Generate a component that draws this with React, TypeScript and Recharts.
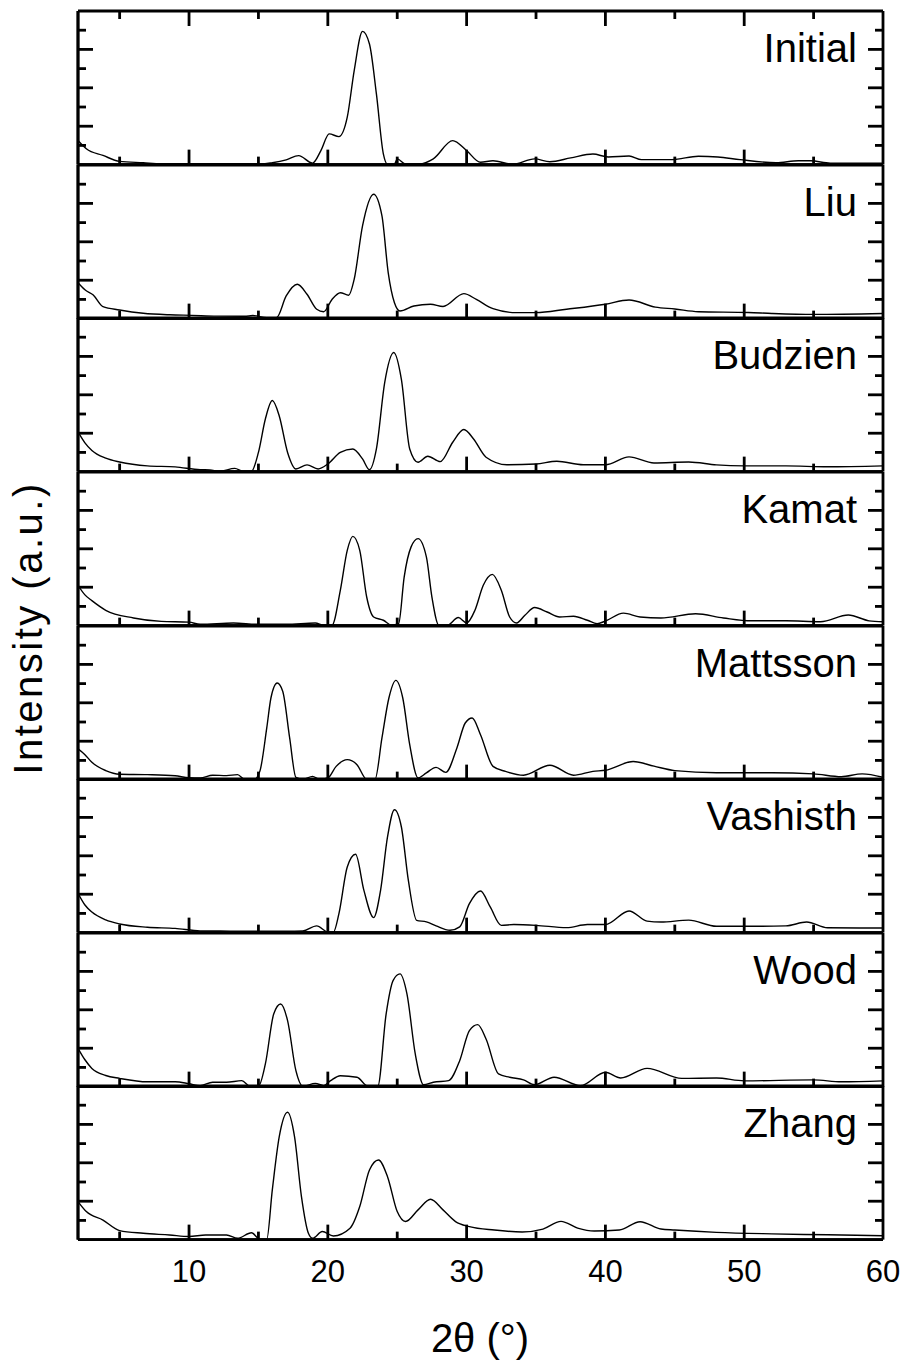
import { LineChart, Line, XAxis, YAxis, ReferenceLine } from "recharts";

// sample names, top to bottom
const samples = ["Initial", "Liu", "Budzien", "Kamat", "Mattsson", "Vashisth", "Wood", "Zhang"];

// 2theta (deg) / intensity (a.u.)
const initialTheta = [2, 2.6, 3.8, 5, 6.7, 8, 10, 12, 14, 15.2, 16, 17, 17.9, 18.9, 19.5, 20.1, 20.8, 21.4, 21.9, 22.5, 23, 23.5, 24, 24.3, 24.8, 25, 25.6, 26.6, 27.6, 29, 30, 31, 31.9, 33.3, 34.9, 36, 37.5, 39.1, 40.2, 41.7, 42.6, 44.8, 46.7, 48.1, 49.7, 52.3, 53.9, 54.8, 56.2, 60];
const initialInt = [1.26, 0.83, 0.48, 0.17, 0.1, 0.05, 0.05, 0.05, 0.05, 0.03, 0.1, 0.25, 0.47, 0.08, 0.73, 1.6, 1.46, 2.47, 4.9, 6.94, 6.28, 3.68, 0.56, 0.02, 0.02, 0.3, 0.03, 0.03, 0.3, 1.25, 0.73, 0.12, 0.2, 0.02, 0.3, 0.15, 0.35, 0.55, 0.4, 0.45, 0.26, 0.26, 0.44, 0.4, 0.26, 0.1, 0.2, 0.2, 0.08, 0.08];

const liuTheta = [2, 2.5, 3.1, 3.8, 5, 6.7, 8.6, 10.2, 12, 14, 14.6, 15.6, 16.3, 17, 17.8, 18.5, 19.2, 19.7, 20.3, 20.9, 21.5, 21.9, 22.5, 23.3, 23.9, 24.35, 24.8, 25.2, 26.2, 27.4, 28.3, 29.8, 30.7, 31.9, 33.6, 35, 37.2, 40, 41.7, 43.6, 45, 46.7, 50.3, 52, 55, 60];
const liuInt = [1.87, 1.5, 1.23, 0.62, 0.45, 0.28, 0.2, 0.17, 0.13, 0.12, 0.16, 0.05, 0.05, 1.18, 1.79, 1.27, 0.49, 0.36, 1.0, 1.35, 1.22, 2.05, 4.83, 6.48, 5.35, 2.4, 0.83, 0.4, 0.66, 0.75, 0.63, 1.3, 1.0, 0.52, 0.31, 0.31, 0.49, 0.75, 0.97, 0.6, 0.5, 0.36, 0.32, 0.27, 0.22, 0.27];

const budzienTheta = [2, 2.5, 3, 4, 5, 7, 9, 10.8, 11.5, 12.2, 13.3, 13.9, 14.5, 15, 15.5, 16, 16.5, 17.1, 17.7, 18.5, 19.3, 20, 20.9, 21.8, 22.5, 23, 23.5, 24.1, 24.75, 25.3, 25.9, 26.5, 27.2, 28.1, 29, 29.8, 30.5, 31.4, 32.9, 35, 36.5, 38.4, 40, 41.7, 43.5, 46, 48, 50, 53, 56, 60];
const budzienInt = [2.07, 1.5, 1.1, 0.7, 0.5, 0.3, 0.25, 0.1, 0.09, 0.02, 0.17, 0.02, 0.02, 1.0, 2.74, 3.7, 2.9, 1.0, 0.14, 0.35, 0.14, 0.4, 1.0, 1.18, 0.66, 0.1, 1.18, 4.65, 6.2, 4.8, 1.18, 0.49, 0.8, 0.52, 1.53, 2.19, 1.7, 0.75, 0.36, 0.4, 0.54, 0.36, 0.36, 0.77, 0.45, 0.5, 0.35, 0.3, 0.3, 0.25, 0.3];

const kamatTheta = [2, 2.5, 3, 4, 6, 8, 10, 10.8, 13.2, 15, 17, 19.1, 19.7, 20.3, 20.9, 21.4, 21.8, 22.3, 22.8, 23.3, 24, 24.6, 25.1, 25.5, 26, 26.5, 27.1, 27.5, 28, 28.6, 29.4, 30, 30.6, 31.2, 31.85, 32.5, 33.1, 33.6, 34.2, 34.9, 35.8, 36.7, 37.7, 38.7, 39.4, 40, 41.3, 42.5, 44, 46.5, 48.5, 50.5, 53, 55.5, 57.5, 59, 60];
const kamatInt = [2.1, 1.6, 1.3, 0.8, 0.4, 0.22, 0.18, 0.07, 0.14, 0.07, 0.07, 0.14, 0.02, 0.02, 1.84, 3.92, 4.65, 3.92, 1.49, 0.45, 0.28, 0.02, 0.1, 2.53, 4.1, 4.53, 3.58, 1.49, 0.02, 0.02, 0.42, 0.14, 0.8, 2.1, 2.67, 1.84, 0.45, 0.14, 0.54, 0.94, 0.71, 0.45, 0.49, 0.28, 0.1, 0.24, 0.65, 0.45, 0.4, 0.62, 0.4, 0.25, 0.25, 0.2, 0.55, 0.25, 0.2];

const mattssonTheta = [2, 2.5, 3, 4, 5, 7, 9, 10, 10.8, 11.7, 12.7, 13.5, 14, 14.7, 15.1, 15.6, 15.9, 16.35, 16.75, 17.25, 17.7, 18.2, 18.9, 19.4, 20, 20.6, 21.4, 22.1, 22.8, 23.4, 23.9, 24.4, 24.9, 25.4, 25.9, 26.5, 27.1, 27.8, 28.5, 29.3, 29.9, 30.4, 31, 31.9, 32.8, 34.1, 36, 37.7, 39.1, 40, 42, 43.5, 45, 48, 52, 55, 57, 58.5, 60];
const mattssonInt = [1.6, 1.3, 0.9, 0.47, 0.28, 0.26, 0.2, 0.1, 0.09, 0.23, 0.21, 0.26, 0.02, 0.02, 0.43, 2.69, 4.25, 5.03, 4.6, 2.17, 0.12, 0.02, 0.17, 0.02, 0.09, 0.69, 1.04, 0.78, 0.02, 0.02, 2.17, 4.25, 5.17, 4.25, 1.82, 0.09, 0.35, 0.64, 0.38, 1.65, 2.95, 3.21, 2.34, 0.69, 0.43, 0.23, 0.75, 0.23, 0.43, 0.49, 0.94, 0.7, 0.47, 0.36, 0.36, 0.3, 0.15, 0.3, 0.12];

const vashisthTheta = [2, 2.5, 3, 4, 5, 7, 9, 10.8, 13, 15, 17, 18.2, 19.2, 20, 20.4, 20.8, 21.4, 22, 22.6, 23.3, 23.8, 24.3, 24.8, 25.3, 25.8, 26.4, 27.1, 27.8, 28.8, 29.5, 30.2, 31, 31.7, 32.5, 33.4, 35, 37.2, 38.7, 40, 41.7, 43, 44, 46, 48, 51, 53, 54.5, 56, 60];
const vashisthInt = [2.05, 1.44, 1.07, 0.66, 0.45, 0.28, 0.22, 0.09, 0.08, 0.07, 0.07, 0.09, 0.35, 0.03, 0.02, 0.99, 3.42, 4.08, 2.2, 0.78, 2.2, 4.98, 6.4, 5.5, 2.73, 0.64, 0.56, 0.35, 0.12, 0.3, 1.51, 2.17, 1.34, 0.38, 0.42, 0.38, 0.26, 0.42, 0.42, 1.13, 0.6, 0.55, 0.65, 0.33, 0.33, 0.35, 0.55, 0.25, 0.24];

const woodTheta = [2, 2.5, 3, 4, 5, 7, 9, 10, 10.8, 11.7, 12.7, 13.8, 14.4, 15, 15.5, 16.1, 16.6, 17.1, 17.7, 18.2, 19.1, 19.7, 20.2, 20.9, 22.1, 22.9, 23.6, 24.2, 24.7, 25.2, 25.7, 26.3, 26.9, 27.6, 28.7, 29.5, 30.2, 30.8, 31.4, 32.3, 33.1, 34.1, 34.9, 36.3, 38.2, 40, 41.1, 43, 45.5, 48, 50, 55, 57, 60];
const woodInt = [2.0, 1.4, 0.95, 0.58, 0.43, 0.25, 0.25, 0.15, 0.05, 0.23, 0.23, 0.31, 0.02, 0.02, 1.18, 3.78, 4.3, 3.44, 0.83, 0.02, 0.17, 0.05, 0.31, 0.57, 0.49, 0.02, 0.02, 3.78, 5.52, 5.87, 4.83, 1.7, 0.1, 0.23, 0.31, 1.35, 2.92, 3.23, 2.48, 0.66, 0.49, 0.35, 0.1, 0.49, 0.05, 0.75, 0.45, 0.95, 0.43, 0.45, 0.3, 0.35, 0.25, 0.3];

const zhangTheta = [2, 2.6, 3.8, 5, 6.7, 8.6, 10, 11.2, 12.7, 13.5, 14.5, 15.1, 15.6, 16, 16.5, 17.1, 17.6, 18.1, 18.6, 18.9, 19.6, 20.4, 21.6, 22.3, 23, 23.65, 24.3, 25, 25.6, 26.5, 27.4, 28.3, 29.2, 30.2, 32, 34, 35.5, 36.8, 38, 39.2, 41, 42.5, 44, 45, 48, 52, 56, 60];
const zhangInt = [1.98, 1.46, 1.02, 0.47, 0.33, 0.24, 0.16, 0.24, 0.24, 0.07, 0.36, 0.02, 0.02, 2.59, 5.36, 6.63, 5.36, 2.24, 0.33, 0.07, 0.42, 0.19, 0.59, 1.72, 3.63, 4.15, 3.28, 1.46, 0.94, 1.55, 2.1, 1.55, 0.94, 0.68, 0.5, 0.4, 0.55, 0.95, 0.6, 0.45, 0.5, 0.93, 0.55, 0.5, 0.38, 0.3, 0.25, 0.2];

const thetaSets = [initialTheta, liuTheta, budzienTheta, kamatTheta, mattssonTheta, vashisthTheta, woodTheta, zhangTheta];
const intensitySets = [initialInt, liuInt, budzienInt, kamatInt, mattssonInt, vashisthInt, woodInt, zhangInt];

const xTicks = [5, 10, 15, 20, 25, 30, 35, 40, 45, 50, 55, 60];
const yTicks = [1, 2, 3, 4, 5, 6, 7];

const W = 904;
const PLOT_L = 78;
const PLOT_R = 883;
const TOP = 11;
const PANEL_H = 153.625;
const PAD = 4;
const FRAME = 2.8;
const FONT = '"Liberation Sans", Arial, sans-serif';

function makeXTick(first: boolean, last: boolean) {
  return (props: any) => {
    const v = props.payload.value;
    const x = props.payload.coordinate ?? props.x;
    const len = v % 10 === 0 ? 15 : 8;
    const bottom = PAD + PANEL_H;
    return (
      <g>
        {v < 60 && <line x1={x} x2={x} y1={bottom} y2={bottom - len} stroke="#000" strokeWidth={FRAME} />}
        {first && v < 60 && <line x1={x} x2={x} y1={PAD} y2={PAD + len} stroke="#000" strokeWidth={FRAME} />}
        {last && v % 10 === 0 && (
          <text x={x} y={bottom + 42} textAnchor="middle" fontSize={31} fill="#000" fontFamily={FONT}>
            {v}
          </text>
        )}
      </g>
    );
  };
}

const YTick = (props: any) => {
  const v = props.payload.value;
  const y = props.payload.coordinate ?? props.y;
  const len = v % 2 === 0 ? 15 : 8;
  return (
    <g>
      <line x1={PLOT_L} x2={PLOT_L + len} y1={y} y2={y} stroke="#000" strokeWidth={FRAME} />
      <line x1={PLOT_R} x2={PLOT_R - len} y1={y} y2={y} stroke="#000" strokeWidth={FRAME} />
    </g>
  );
};

function Panel({ idx }: { idx: number }) {
  const data = thetaSets[idx].map((t, i) => ({ x: t, y: intensitySets[idx][i] }));
  const first = idx === 0;
  const last = idx === samples.length - 1;
  const bottomPad = last ? 60 : PAD;
  return (
    <div style={{ position: "absolute", left: 0, top: TOP + idx * PANEL_H - PAD }}>
      <LineChart
        width={W}
        height={PANEL_H + PAD + bottomPad}
        data={data}
        margin={{ top: PAD, right: W - PLOT_R, bottom: bottomPad - 1, left: PLOT_L - 1 }}
      >
        <XAxis
          dataKey="x"
          type="number"
          domain={[2, 60]}
          ticks={xTicks}
          interval={0}
          allowDataOverflow
          height={1}
          tickLine={false}
          axisLine={{ stroke: "#000", strokeWidth: FRAME }}
          tick={makeXTick(first, last)}
        />
        <YAxis
          type="number"
          domain={[0, 8]}
          ticks={yTicks}
          interval={0}
          allowDataOverflow
          width={1}
          tickLine={false}
          axisLine={{ stroke: "#000", strokeWidth: FRAME }}
          tick={YTick}
        />
        <ReferenceLine x={60} stroke="#000" strokeWidth={FRAME} />
        <ReferenceLine y={8} stroke="#000" strokeWidth={FRAME} />
        <ReferenceLine x={2} stroke="#000" strokeWidth={FRAME} />
        <ReferenceLine y={0} stroke="#000" strokeWidth={FRAME} />
        <Line
          type="monotone"
          dataKey="y"
          stroke="#000"
          strokeWidth={1.4}
          dot={false}
          isAnimationActive={false}
        />
      </LineChart>
    </div>
  );
}

export default function App() {
  return (
    <div style={{ position: "absolute", left: 0, top: 0, width: W, height: 1360, background: "#fff", fontFamily: FONT }}>
      {samples.map((s, i) => (
        <Panel key={s} idx={i} />
      ))}
      <svg width={W} height={1360} style={{ position: "absolute", left: 0, top: 0, pointerEvents: "none" }}>
        {samples.map((s, i) => (
          <text key={s} x={857} y={TOP + i * PANEL_H + 51} textAnchor="end" fontSize={40} fill="#000" fontFamily={FONT}>
            {s}
          </text>
        ))}
        <text transform="translate(42,628) rotate(-90)" textAnchor="middle" fontSize={40} letterSpacing={2.5} fill="#000" fontFamily={FONT}>
          Intensity (a.u.)
        </text>
        <text x={480} y={1352} textAnchor="middle" fontSize={40} fill="#000" fontFamily={FONT}>
          2θ (°)
        </text>
      </svg>
    </div>
  );
}
